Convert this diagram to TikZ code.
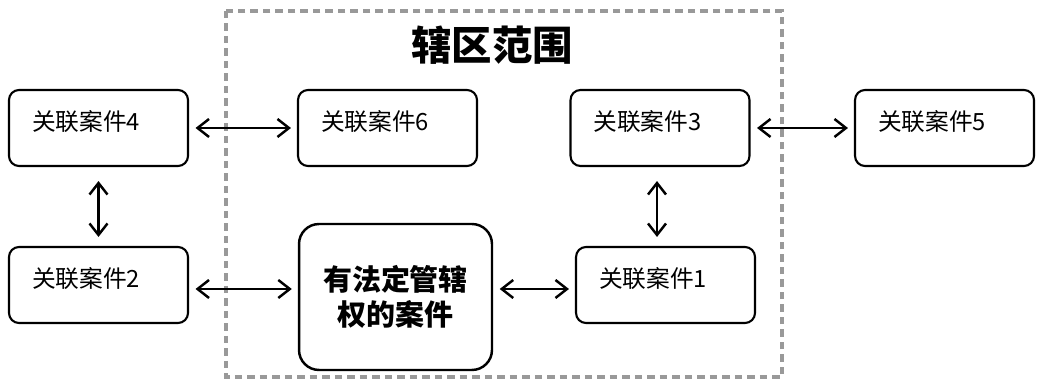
\documentclass[tikz,border=0pt]{standalone}
\usepackage{fontspec}
\setmainfont{Noto Sans CJK SC}
\usepackage{tikz}
\usetikzlibrary{arrows.meta,positioning,calc}

\tikzset{
  casebox/.style={draw, line width=1.2pt, rounded corners=0.2cm, align=left,
    text width=2.66cm, inner xsep=0.46cm, inner ysep=0pt, minimum height=1.52cm,
    text height=0.4cm, text depth=0.28cm, font=\fontsize{13.5pt}{15pt}\selectfont},
  mainbox/.style={draw, line width=1.4pt, rounded corners=0.4cm, align=center,
    minimum width=3.86cm, minimum height=2.92cm, inner sep=0pt,
    font=\fontsize{16.5pt}{20pt}\selectfont\bfseries},
  dbl/.style={{Straight Barb[length=2.3mm,width=3.6mm]}-{Straight Barb[length=2.3mm,width=3.6mm]},
    line width=1.4pt, shorten <=0.13cm, shorten >=0.12cm},
}

\begin{document}
\begin{tikzpicture}[x=0.02cm, y=-0.02cm]
  \useasboundingbox (0,0) rectangle (1051,384);

  % Jurisdiction frame
  \draw[gray!80, line width=1.8pt, dash pattern=on 0.15cm off 0.1cm] (226,11) rectangle (782,377);
  \node[font=\fontsize{23pt}{26pt}\selectfont\bfseries] (title) at (492,45) {辖区范围};

  % Case boxes
  \node[casebox] (b4) at (98.5,128) {关联案件4};
  \node[casebox] (b6) at (387.5,128) {关联案件6};
  \node[casebox] (b3) at (660,128) {关联案件3};
  \node[casebox] (b5) at (944.5,128) {关联案件5};
  \node[casebox] (b2) at (98.5,285) {关联案件2};
  \node[casebox] (b1) at (665.5,285) {关联案件1};

  % Case with statutory jurisdiction
  \node[mainbox] (main) at (395.5,297) {有法定管辖\\权的案件};

  % Links
  \draw[dbl] (b4) -- (b6);
  \draw[dbl] (b3) -- (b5);
  \draw[dbl, shorten <=0.28cm, shorten >=0.18cm] (b4) -- (b2);
  \draw[dbl, shorten <=0.28cm, shorten >=0.18cm] ($(b3.south)+(-3,0)$) -- ($(b3.south |- b1.north)+(-3,0)$);
  \draw[dbl] ($(b2.east)+(0,4)$) -- ($(b2.east -| main.west)+(0,4)$);
  \draw[dbl] ($(b1.west -| main.east)+(0,4)$) -- ($(b1.west)+(0,4)$);
\end{tikzpicture}
\end{document}
